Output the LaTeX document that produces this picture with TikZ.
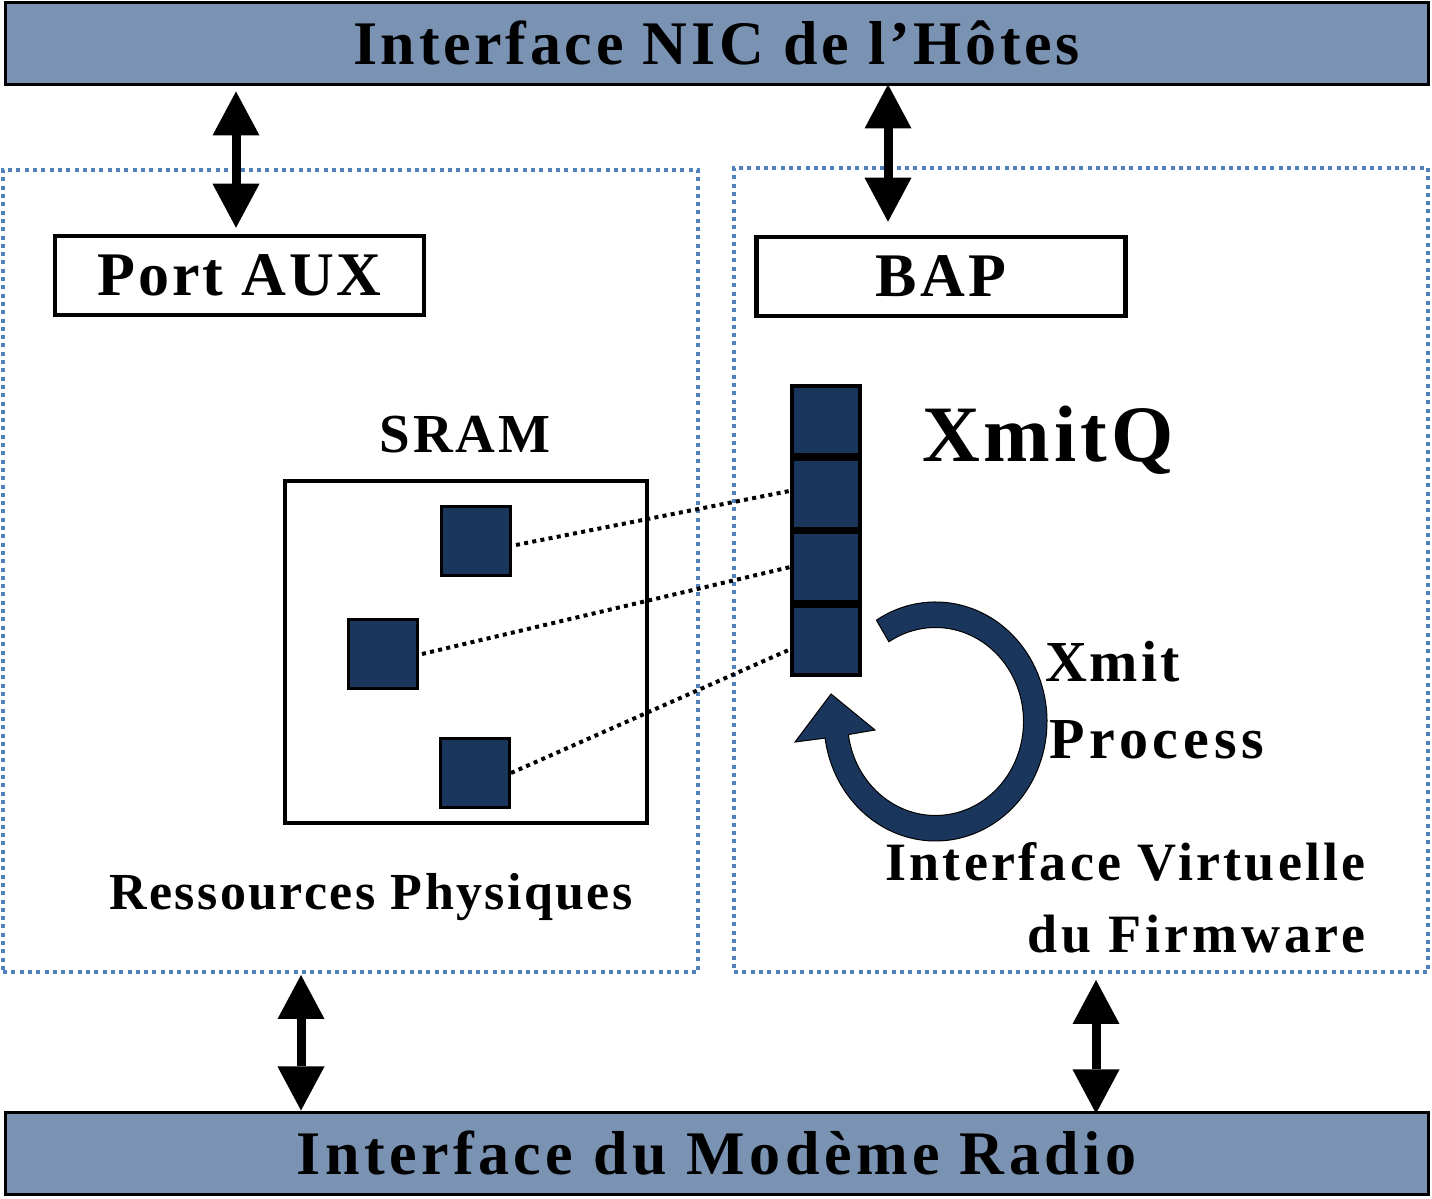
\documentclass[tikz,border=0pt]{standalone}
\usepackage{fontspec}
\setmainfont{Liberation Serif}
\usetikzlibrary{arrows.meta}
\definecolor{barblue}{RGB}{122,147,179}
\definecolor{qnavy}{RGB}{26,54,92}
\definecolor{dotblue}{RGB}{79,129,189}
\begin{document}
\begin{tikzpicture}[x=1pt,y=1pt,
  bar/.style={draw=black, line width=3pt, fill=barblue, minimum width=1423pt, minimum height=82pt,
    inner sep=0pt, text height=41pt, text depth=0pt},
  portbox/.style={draw=black, line width=4.5pt, fill=white, minimum width=369pt, minimum height=79pt,
    inner sep=0pt, text height=41pt, text depth=0pt},
  groupbox/.style={draw=dotblue, line width=4pt, dash pattern=on 4pt off 4.3pt, inner sep=0pt},
  membox/.style={draw=black, line width=4pt, inner sep=0pt},
  blk/.style={draw=black, line width=3pt, fill=qnavy, minimum size=69pt, inner sep=0pt},
  qblk/.style={draw=black, line width=4pt, fill=qnavy, minimum width=68pt, minimum height=69.3pt, inner sep=0pt},
  conn/.style={draw=black, line width=4pt, dash pattern=on 4pt off 4.3pt},
  dbl/.style={draw=black, line width=9pt,
    {Triangle[length=44pt,width=47pt,line width=0pt]}-{Triangle[length=44pt,width=47pt,line width=0pt]}},
  txt/.style 2 args={inner sep=0pt, font=\fontsize{#1}{#1}\selectfont\bfseries\addfontfeature{LetterSpace=#2}}
]
\useasboundingbox (0,0) rectangle (1432,1199);

% group boxes
\node[groupbox, minimum width=695pt, minimum height=802pt] (res) at (350.5,628) {};
\node[groupbox, minimum width=694pt, minimum height=804pt] (vif) at (1081,629) {};

% bars
\node[bar, txt={62}{6}] (nic) at (716.5,1155) {Interface NIC de l’Hôtes};
\node[bar, txt={62}{7.2}] (modem) at (716.5,45) {Interface du Modème Radio};

% ports
\node[portbox, txt={62}{4.6}] (port) at (239.5,923.5) {Port AUX};
\node[portbox, txt={62}{5}] (bap) at (941,922.5) {BAP};

% SRAM
\node[membox, minimum width=362pt, minimum height=342pt] (sram) at (466,547) {};
\node[txt={55}{5}, anchor=base] (sramlbl) at (465,746) {SRAM};
\node[blk] (sq1) at (476,658) {};
\node[blk] (sq2) at (383,545) {};
\node[blk] (sq3) at (475,426) {};

% queue
\node[qblk] (q1) at (826,778.4) {};
\node[qblk] (q2) at (826,705.1) {};
\node[qblk] (q3) at (826,631.9) {};
\node[qblk] (q4) at (826,558.6) {};

% connectors
\draw[conn] ([xshift=4pt,yshift=-4pt]sq1.east) -- ([yshift=3pt]q2.west);
\draw[conn] ([xshift=3pt]sq2.east) -- (q3.west);
\draw[conn] (sq3.east) -- ([yshift=-9pt]q4.west);

% labels
\node[txt={80}{5}, anchor=base west] (xq) at (922,737) {XmitQ};
\node[txt={58}{5}, anchor=base west] (xmit) at (1045,517) {Xmit};
\node[txt={58}{8.4}, anchor=base west] (proc) at (1049,440) {Process};
\node[txt={54}{6}, anchor=base east] (iv1) at (1366,318) {Interface Virtuelle};
\node[txt={54}{7.2}, anchor=base east] (iv2) at (1366,246) {du Firmware};
\node[txt={52}{4.6}, anchor=base] (rp) at (371,289) {Ressources Physiques};

% circular process arrow
\filldraw[fill=qnavy, draw=black, line width=1pt]
  (935.5,477.5) ++(122:111.5 and 119.5)
  arc[start angle=122, end angle=-172, x radius=111.5, y radius=119.5]
  -- (795,457) -- (831,505) -- (875,469) -- (848.36,464.42)
  arc[start angle=-172, end angle=122, x radius=88, y radius=94] -- cycle;

% double arrows
\coordinate (a1) at (236,0);
\coordinate (a2) at (888,0);
\coordinate (a3) at (301,0);
\coordinate (a4) at (1096,0);
\draw[dbl] ([yshift=-5pt]nic.south -| a1) -- ([yshift=6pt]port.north -| a1);
\draw[dbl] ([yshift=2pt]nic.south -| a2) -- ([yshift=13pt]bap.north -| a2);
\draw[dbl] ([yshift=-1pt]res.south -| a3) -- ([yshift=1pt]modem.north -| a3);
\draw[dbl] ([yshift=-6pt]vif.south -| a4) -- ([yshift=-2pt]modem.north -| a4);
\end{tikzpicture}
\end{document}
